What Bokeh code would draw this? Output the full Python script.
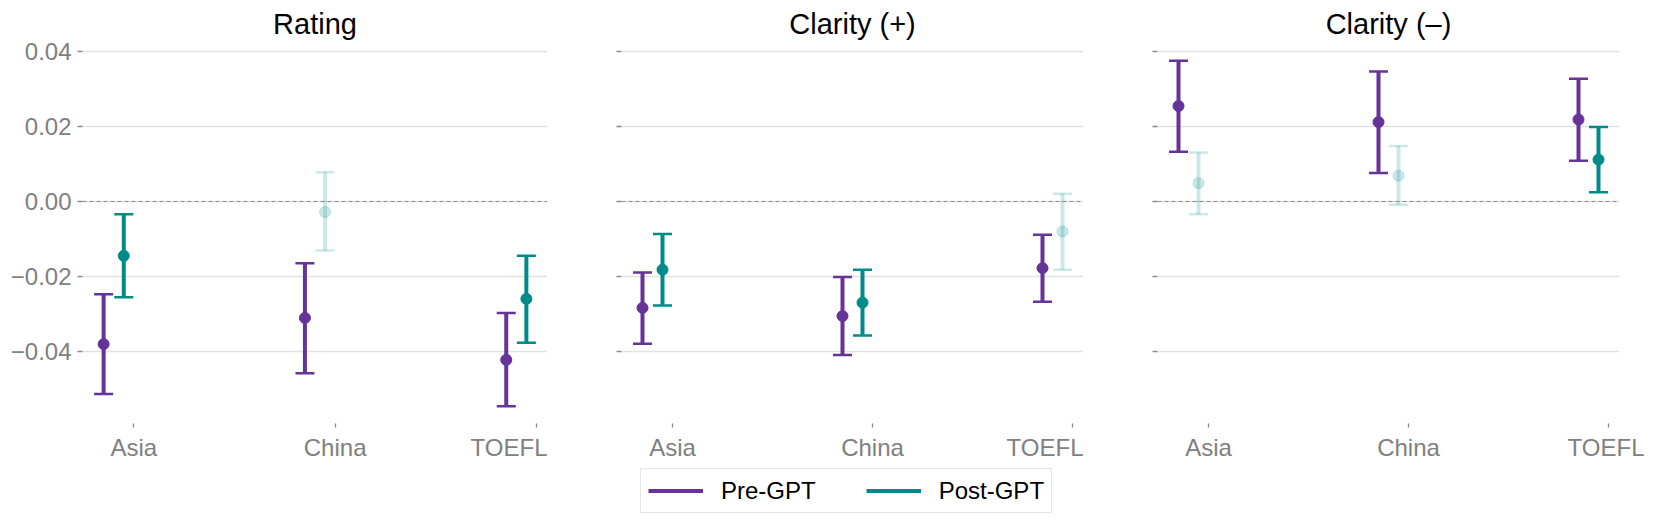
from bokeh.plotting import figure
from bokeh.models import Range1d, FixedTicker, Span, Legend, LegendItem, ColumnDataSource
from bokeh.layouts import row, column
from bokeh.embed import file_html
from bokeh.resources import INLINE

# ---------------- data ----------------
panel_titles = ["Rating", "Clarity (+)", "Clarity (\u2013)"]
categories = ["Asia", "China", "TOEFL"]
series_names = ["Pre-GPT", "Post-GPT"]

# Rating
rating_pre_mean = [-0.0381, -0.0311, -0.0423]
rating_pre_low = [-0.0514, -0.0459, -0.0547]
rating_pre_high = [-0.0248, -0.0165, -0.0298]
rating_post_mean = [-0.0145, -0.0028, -0.0260]
rating_post_low = [-0.0256, -0.0131, -0.0377]
rating_post_high = [-0.0034, 0.0078, -0.0145]

# Clarity (+)
clar_pos_pre_mean = [-0.0284, -0.0306, -0.0178]
clar_pos_pre_low = [-0.0380, -0.0410, -0.0268]
clar_pos_pre_high = [-0.0190, -0.0202, -0.0089]
clar_pos_post_mean = [-0.0182, -0.0270, -0.0080]
clar_pos_post_low = [-0.0278, -0.0358, -0.0182]
clar_pos_post_high = [-0.0087, -0.0182, 0.0021]

# Clarity (-)
clar_neg_pre_mean = [0.0255, 0.0212, 0.0219]
clar_neg_pre_low = [0.0133, 0.0076, 0.0109]
clar_neg_pre_high = [0.0376, 0.0347, 0.0328]
clar_neg_post_mean = [0.0049, 0.0069, 0.0112]
clar_neg_post_low = [-0.0034, -0.0009, 0.0025]
clar_neg_post_high = [0.0131, 0.0148, 0.0199]

y_ticks = [-0.04, -0.02, 0.0, 0.02, 0.04]
y_tick_labels = ["\u22120.04", "\u22120.02", "0.00", "0.02", "0.04"]

# ---------------- style ----------------
PURPLE = "#663399"
TEAL = "#008B8B"
FONT = "Liberation Sans"
offsets = [-0.15, -0.05]
colors = [PURPLE, TEAL]

panel_data = [
    [(rating_pre_mean, rating_pre_low, rating_pre_high),
     (rating_post_mean, rating_post_low, rating_post_high)],
    [(clar_pos_pre_mean, clar_pos_pre_low, clar_pos_pre_high),
     (clar_pos_post_mean, clar_pos_post_low, clar_pos_post_high)],
    [(clar_neg_pre_mean, clar_neg_pre_low, clar_neg_pre_high),
     (clar_neg_post_mean, clar_neg_post_low, clar_neg_post_high)],
]

widths = [547, 536, 561]
left_borders = [82, 74, 74]
right_borders = [0, 0, 25]
H = 466

figs = []
for k, title in enumerate(panel_titles):
    p = figure(width=widths[k], height=H,
               x_range=Range1d(-0.255, 2.055), y_range=Range1d(-0.0593, 0.0422),
               output_backend="svg", toolbar_location=None,
               min_border_left=left_borders[k], min_border_right=right_borders[k],
               min_border_top=43, min_border_bottom=43)
    p.outline_line_color = None
    p.background_fill_color = "white"
    p.border_fill_color = "white"

    p.title.text = title
    p.title.align = "center"
    p.title.text_font = FONT
    p.title.text_font_size = "29px"
    p.title.text_font_style = "normal"
    p.title.text_color = "black"
    p.title.standoff = 8

    p.xgrid.visible = False
    p.ygrid.grid_line_color = "#e2e2e2"
    p.ygrid.grid_line_width = 1.5

    p.xaxis.ticker = FixedTicker(ticks=[0, 1, 2])
    p.xaxis.major_label_overrides = {i: c for i, c in enumerate(categories)}
    p.yaxis.ticker = FixedTicker(ticks=y_ticks)
    if k == 0:
        p.yaxis.major_label_overrides = {t: l for t, l in zip(y_ticks, y_tick_labels)}
    else:
        p.yaxis.major_label_overrides = {t: "" for t in y_ticks}
    for ax in (p.xaxis, p.yaxis):
        ax.axis_line_color = None
        ax.minor_tick_line_color = None
        ax.major_tick_line_color = "#8a8a8a"
        ax.major_tick_line_width = 1.3
        ax.major_tick_in = 0
        ax.major_label_text_font = FONT
        ax.major_label_text_font_size = "24px"
        ax.major_label_text_color = "#808080"
    p.xaxis.major_tick_out = 4
    p.xaxis.major_label_standoff = 6
    p.yaxis.major_tick_out = 5
    p.yaxis.major_label_standoff = 6

    p.add_layout(Span(location=0, dimension="width", line_color="#8c8c8c",
                      line_dash="4 3", line_width=1.2))

    for s, (mean, low, high) in enumerate(panel_data[k]):
        alpha = [1.0 if (lo > 0 or hi < 0) else 0.2 for lo, hi in zip(low, high)]
        src = ColumnDataSource(dict(
            x=[i + offsets[s] for i in range(len(categories))],
            mean=mean, low=low, high=high, alpha=alpha))
        c = colors[s]
        p.segment(x0="x", y0="low", x1="x", y1="high", source=src,
                  line_color=c, line_alpha="alpha", line_width=4)
        p.scatter("x", "low", marker="dash", size=19, line_width=2.5,
                  line_color=c, line_alpha="alpha", source=src)
        p.scatter("x", "high", marker="dash", size=19, line_width=2.5,
                  line_color=c, line_alpha="alpha", source=src)
        p.scatter("x", "mean", marker="circle", size=11, fill_color=c,
                  line_color=c, fill_alpha="alpha", line_alpha="alpha", source=src)
    figs.append(p)

# separate strip holding the shared legend
nan = float("nan")
lf = figure(width=sum(widths), height=47, x_range=Range1d(0, 1), y_range=Range1d(0, 1),
            output_backend="svg", toolbar_location=None,
            x_axis_location=None, y_axis_location=None,
            min_border_left=0, min_border_right=0, min_border_top=0, min_border_bottom=0)
lf.outline_line_color = None
lf.xgrid.visible = False
lf.ygrid.visible = False
items = []
for s, name in enumerate(series_names):
    r = lf.line(x=[nan, nan], y=[nan, nan], line_color=colors[s], line_width=4)
    items.append(LegendItem(label=name, renderers=[r]))
legend = Legend(items=items, location=(640, 0), orientation="horizontal",
                label_text_font=FONT, label_text_font_size="24px",
                label_text_color="black", glyph_width=55, glyph_height=29,
                label_standoff=18, spacing=50, padding=7, margin=0,
                border_line_color="#cccccc", border_line_width=1.5,
                background_fill_color="white", background_fill_alpha=1.0)
lf.add_layout(legend)

layout = column(row(*figs), lf)
open("out.html", "w").write(file_html(layout, INLINE))
